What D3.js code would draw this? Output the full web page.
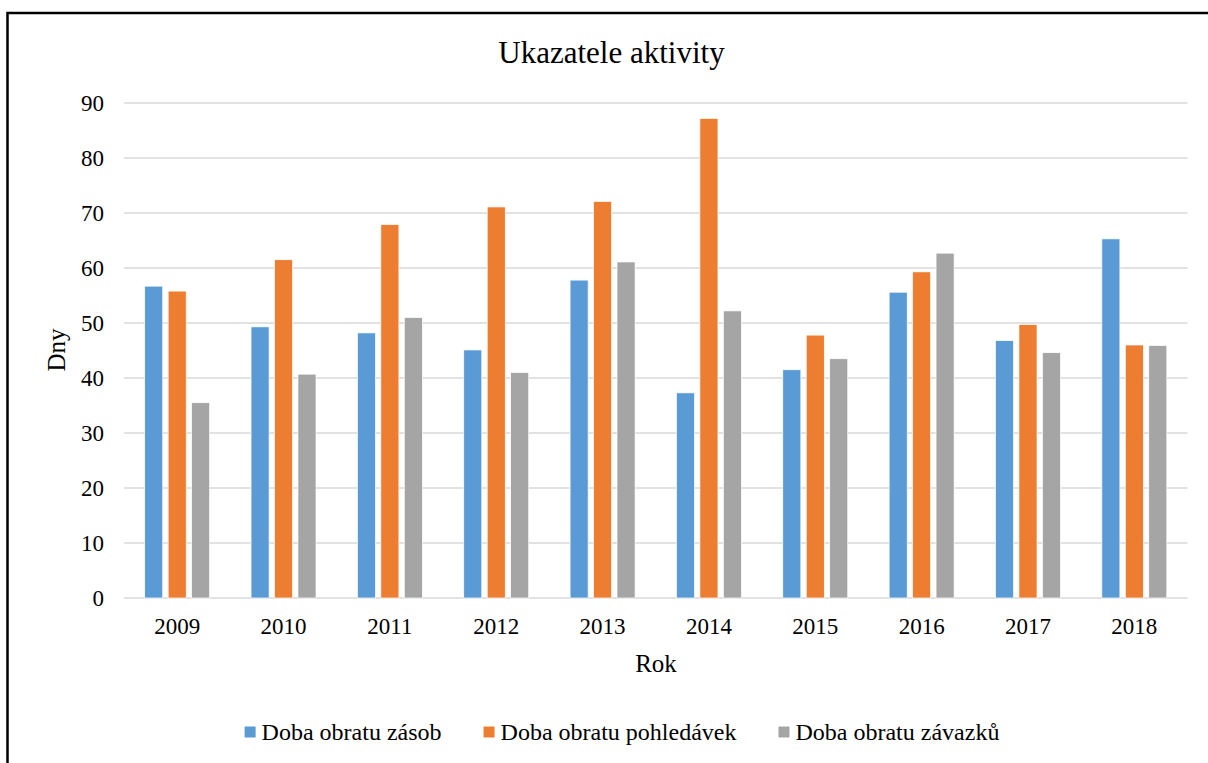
<!DOCTYPE html>
<html>
<head>
<meta charset="utf-8">
<script src="https://cdn.jsdelivr.net/npm/d3@7"></script>
<style>
  body { margin: 0; background: #fff; }
  svg { display: block; font-family: "Liberation Serif", "Times New Roman", serif; }
</style>
</head>
<body>
<svg id="chart" width="1208" height="763"></svg>
<script>
// data
const years = ["2009", "2010", "2011", "2012", "2013", "2014", "2015", "2016", "2017", "2018"];
const seriesNames = ["Doba obratu zásob", "Doba obratu pohledávek", "Doba obratu závazků"];
const zasoby = [56.7, 49.3, 48.2, 45.1, 57.8, 37.3, 41.5, 55.6, 46.8, 65.3];
const pohledavky = [55.8, 61.5, 67.9, 71.1, 72.1, 87.2, 47.8, 59.3, 49.7, 46.0];
const zavazky = [35.5, 40.7, 51.0, 41.0, 61.1, 52.2, 43.5, 62.7, 44.6, 45.9];
const yTicks = [0, 10, 20, 30, 40, 50, 60, 70, 80, 90];

const colors = ["#5B9BD5", "#ED7D31", "#A5A5A5"];
const seriesValues = [zasoby, pohledavky, zavazky];

const svg = d3.select("#chart");

// outer frame: only top and left edges fall inside the picture
svg.append("path")
  .attr("d", "M7.5,763 L7.5,13 L1208,13")
  .attr("fill", "none")
  .attr("stroke", "#000")
  .attr("stroke-width", 2.5);

const plot = { left: 124, right: 1187.5, top: 103, bottom: 598 };

const y = d3.scaleLinear().domain([0, 90]).range([plot.bottom, plot.top]);

const x0 = d3.scaleBand()
  .domain(years)
  .range([plot.left, plot.right])
  .paddingInner(0.389)
  .paddingOuter(0.1945);

const x1 = d3.scaleBand()
  .domain(seriesNames)
  .range([0, x0.bandwidth()])
  .paddingInner(0.23);

// gridlines
svg.append("g")
  .selectAll("line")
  .data(yTicks)
  .join("line")
  .attr("x1", plot.left).attr("x2", plot.right)
  .attr("y1", d => y(d)).attr("y2", d => y(d))
  .attr("stroke", "#D9D9D9")
  .attr("stroke-width", 1.5);

// y tick labels
svg.append("g")
  .selectAll("text")
  .data(yTicks)
  .join("text")
  .attr("x", 104)
  .attr("y", d => y(d))
  .attr("dy", "0.35em")
  .attr("text-anchor", "end")
  .attr("font-size", 23)
  .attr("fill", "#000")
  .text(d => d);

// bars
const table = years.map((yr, i) => ({
  year: yr,
  values: seriesNames.map((s, j) => ({ name: s, value: seriesValues[j][i], color: colors[j] }))
}));

svg.append("g")
  .selectAll("g")
  .data(table)
  .join("g")
  .attr("transform", d => `translate(${x0(d.year)},0)`)
  .selectAll("rect")
  .data(d => d.values)
  .join("rect")
  .attr("x", d => x1(d.name))
  .attr("y", d => y(d.value))
  .attr("width", x1.bandwidth())
  .attr("height", d => y(0) - y(d.value))
  .attr("fill", d => d.color)
  .attr("stroke", "#fff")
  .attr("stroke-width", 0.7);

// x axis labels
svg.append("g")
  .selectAll("text")
  .data(years)
  .join("text")
  .attr("x", d => x0(d) + x0.bandwidth() / 2)
  .attr("y", 634)
  .attr("text-anchor", "middle")
  .attr("font-size", 23)
  .text(d => d);

// title
svg.append("text")
  .attr("x", 611.5).attr("y", 63)
  .attr("text-anchor", "middle")
  .attr("font-size", 31)
  .text("Ukazatele aktivity");

// axis titles
svg.append("text")
  .attr("x", 656).attr("y", 672)
  .attr("text-anchor", "middle")
  .attr("font-size", 25)
  .text("Rok");

svg.append("text")
  .attr("transform", "translate(65,350) rotate(-90)")
  .attr("text-anchor", "middle")
  .attr("font-size", 25)
  .text("Dny");

// legend
const legend = svg.append("g");
const items = legend.selectAll("g")
  .data(seriesNames)
  .join("g");
items.append("rect")
  .attr("width", 11).attr("height", 11)
  .attr("y", -5.5)
  .attr("fill", (d, i) => colors[i]);
items.append("text")
  .attr("x", 17)
  .attr("dy", "0.35em")
  .attr("font-size", 24)
  .text(d => d);

const widths = [];
items.each(function () {
  const w = d3.select(this).select("text").node().getComputedTextLength() + 17;
  widths.push(w);
});
const gap = 42;
const total = d3.sum(widths) + gap * (widths.length - 1);
let cx = 622 - total / 2;
items.attr("transform", (d, i) => {
  const t = `translate(${cx},732)`;
  cx += widths[i] + gap;
  return t;
});
</script>
</body>
</html>
